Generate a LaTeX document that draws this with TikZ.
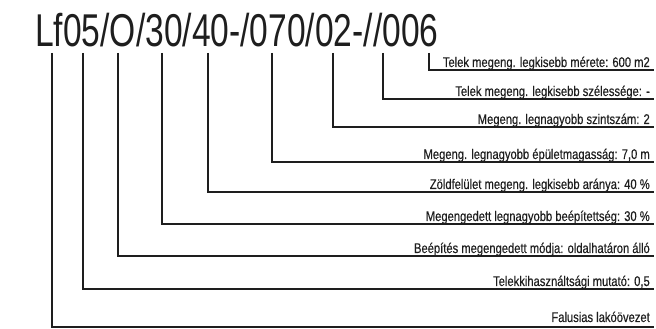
\documentclass[tikz,border=0pt]{standalone}
\usepackage{fontspec}
\setmainfont{Liberation Sans}
\newfontfamily\titlefont[FakeStretch=0.73]{Liberation Sans}
\newfontfamily\labfont[FakeStretch=0.80,FakeBold=0.35]{Liberation Sans}
\definecolor{ink}{HTML}{1E1E1E}
\begin{document}
\begin{tikzpicture}[x=1pt,y=1pt,
  conn/.style={draw=ink, line width=1.3pt},
  lab/.style={font=\labfont\fontsize{14}{16}\selectfont, anchor=base east, inner sep=0pt, text=ink}]
\useasboundingbox (0,0) rectangle (656,329);
\node[anchor=base west, inner sep=0pt, font=\titlefont\fontsize{46}{50}\selectfont, text=ink] (title) at (35,282) {Lf05/O/30/40-/070/02-//006};
% vertical tops
\coordinate (v1) at (429,276);
\coordinate (v2) at (383,276);
\coordinate (v3) at (333,276);
\coordinate (v4) at (272,276);
\coordinate (v5) at (208,276);
\coordinate (v6) at (162,276);
\coordinate (v7) at (118,276);
\coordinate (v8) at (83,276);
\coordinate (v9) at (52,276);
% line ends
\coordinate (e1) at (654,259);
\coordinate (e2) at (654,230);
\coordinate (e3) at (654,202);
\coordinate (e4) at (654,167);
\coordinate (e5) at (654,137);
\coordinate (e6) at (654,105);
\coordinate (e7) at (654,73);
\coordinate (e8) at (654,40);
\coordinate (e9) at (654,2);
% labels
\node[lab] (l1) at ([xshift=-4pt,yshift=3pt]e1) {Telek megeng. legkisebb mérete: 600 m2};
\node[lab] (l2) at ([xshift=-4pt,yshift=3pt]e2) {Telek megeng. legkisebb szélessége: -};
\node[lab] (l3) at ([xshift=-4pt,yshift=3pt]e3) {Megeng. legnagyobb szintszám: 2};
\node[lab] (l4) at ([xshift=-4pt,yshift=3pt]e4) {Megeng. legnagyobb épületmagasság: 7,0 m};
\node[lab] (l5) at ([xshift=-4pt,yshift=3pt]e5) {Zöldfelület megeng. legkisebb aránya: 40 \%};
\node[lab] (l6) at ([xshift=-4pt,yshift=3pt]e6) {Megengedett legnagyobb beépítettség: 30 \%};
\node[lab] (l7) at ([xshift=-4pt,yshift=3pt]e7) {Beépítés megengedett módja: oldalhatáron álló};
\node[lab] (l8) at ([xshift=-4pt,yshift=3pt]e8) {Telekkihasználtsági mutató: 0,5};
\node[lab] (l9) at ([xshift=-4pt,yshift=5pt]e9) {Falusias lakóövezet};
% connectors
\foreach \i in {1,...,9} {
  \draw[conn] (v\i) |- (e\i);
}
\end{tikzpicture}
\end{document}
